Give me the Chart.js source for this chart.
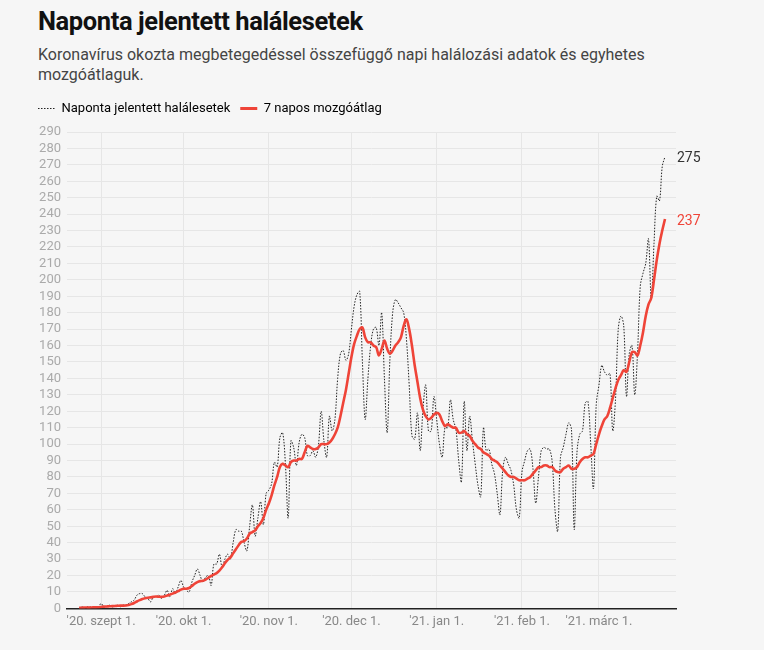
<!DOCTYPE html>
<html lang="hu">
<head>
<meta charset="utf-8">
<script src="https://cdn.jsdelivr.net/npm/chart.js@4"></script>
<style>
  html, body { margin: 0; padding: 0; background: #f6f6f6; }
  body { width: 764px; height: 650px; position: relative; overflow: hidden; font-family: Roboto, sans-serif; }
  h1 { position: absolute; left: 38px; top: 6px; margin: 0; font-size: 25.5px; font-weight: 700; color: #111; letter-spacing: -0.4px; }
  p.sub { position: absolute; left: 38px; top: 45px; margin: 0; width: 640px; font-size: 16px; line-height: 20px; color: #444; }
  #wrap { position: absolute; left: 0; top: 92px; width: 764px; height: 558px; }
</style>
</head>
<body>
<h1>Naponta jelentett halálesetek</h1>
<p class="sub">Koronavírus okozta megbetegedéssel összefüggő napi halálozási adatok és egyhetes mozgóátlaguk.</p>
<div id="wrap"><canvas id="chart"></canvas></div>
<script>
// napok: 0 = 2020. aug. 24., utolsó = 2021. márc. 25.
const monthTicks = [8, 38, 69, 99, 130, 161, 189];
const monthLabels = ["'20. szept 1.", "'20. okt 1.", "'20. nov 1.", "'20. dec 1.", "'21. jan 1.", "'21. feb 1.", "'21. márc 1."];

const daily = [
  0, 1, 0, 1, 1, 0, 1, 1,
  3, 1, 1, 2, 1, 1,
  2, 1, 2, 2, 3, 4, 5,
  8, 9, 9, 7, 6, 4, 7,
  7, 8, 6, 8, 11, 7, 12,
  9, 13, 17, 13, 11, 10, 16,
  20, 24, 20, 16, 19, 20, 14,
  27, 27, 33, 25, 30, 33, 30,
  40, 48, 47, 47, 40, 35, 50,
  63, 44, 55, 65, 51, 70, 72,
  76, 89, 86, 104, 107, 88, 55,
  102, 98, 87, 101, 106, 104, 93,
  93, 96, 92, 99, 120, 102, 92,
  117, 108, 115, 140, 155, 157, 151,
  155, 170, 184, 191, 193, 150, 115,
  140, 160, 170, 171, 160, 180, 140,
  107, 152, 180, 188, 186, 183, 180,
  164, 136, 105, 103, 119, 96, 121,
  136, 108, 108, 129, 115, 100, 92,
  110, 110, 127, 115, 109, 90, 77,
  126, 96, 117, 102, 88, 75, 68,
  110, 96, 97, 88, 82, 70, 57,
  84, 92, 88, 84, 75, 60, 55,
  83, 90, 96, 97, 85, 64, 80,
  96, 98, 97, 97, 89, 60, 47,
  92, 98, 106, 113, 109, 48, 95,
  106, 108, 125, 126, 100, 73, 124,
  136, 148, 144, 142, 143, 108, 127,
  170, 178, 172, 129, 155, 160, 130,
  155, 196, 204, 210, 225, 188, 222,
  251, 248, 269, 275
];

const avg7 = [
  0.4, 0.4, 0.5, 0.5, 0.5, 0.6, 0.6, 0.7, 0.9, 1.1,
  1.2, 1.3, 1.4, 1.5, 1.6, 1.7, 1.7, 1.8,
  2.1, 2.6, 3.3, 4.2, 5.0, 5.7, 6.2, 6.5, 6.7, 7.0,
  7.2, 7.1, 7.0, 7.3, 7.8, 8.4, 9.0, 9.7, 10.5, 11.4,
  12.0, 12.0, 12.4, 13.6, 15.0, 16.0, 16.6, 16.8, 17.5, 18.6,
  19.8, 20.6, 21.5, 23.0, 25.0, 27.5, 29.5, 31.0, 33.5, 36.0,
  38.5, 40.5, 41.0, 42.5, 45.5, 46.5, 47.5, 50.0, 52.0, 55.0,
  60, 64, 69, 75, 80, 86, 88, 87, 86, 89,
  90, 90, 91, 91, 95, 99, 98, 97, 97, 98,
  100, 100, 100, 101, 103, 106, 110, 117, 125, 133,
  143, 153, 161, 166, 170, 171, 165, 162, 162, 160,
  159, 154, 158, 163, 158, 155, 157, 160, 162, 165,
  172, 176, 170, 160, 148, 138, 128, 121, 117, 115,
  116, 118, 119, 118, 114, 111, 112, 111, 110, 110,
  107, 107, 108, 106, 105, 102, 100, 98, 97, 95,
  94, 93, 91, 90, 89, 87, 85, 83, 81, 80,
  80, 79, 78, 78, 78, 79, 80, 82, 84, 86,
  86, 87, 87, 86, 86,
  84, 83, 83, 85, 86, 87, 85,
  85, 86, 89, 91, 92, 92, 93, 94,
  100, 106, 111, 115, 117, 122, 128, 134, 139, 142,
  145, 144, 150, 156, 156, 154, 160,
  168, 178, 185, 189, 200, 212, 222, 230, 237
];

const toPoints = arr => arr.map((v, i) => ({ x: i, y: v }));

// utolsó érték kiírása a vonalak végén
const endLabels = {
  id: 'endLabels',
  afterDatasetsDraw(chart) {
    const ctx = chart.ctx;
    chart.data.datasets.forEach((ds, i) => {
      const meta = chart.getDatasetMeta(i);
      const pt = meta.data[meta.data.length - 1];
      ctx.save();
      ctx.font = '14px Roboto';
      ctx.fillStyle = ds.endColor;
      ctx.textBaseline = 'middle';
      ctx.fillText(ds.data[ds.data.length - 1].y, pt.x + 12, pt.y + 2);
      ctx.restore();
    });
  }
};

// kis hely a jelmagyarázat alatt
const legendGap = {
  id: 'legendGap',
  beforeInit(chart) {
    const fit = chart.legend.fit;
    chart.legend.fit = function () {
      fit.call(this);
      this.height += 7;
    };
  }
};

new Chart(document.getElementById('chart'), {
  type: 'line',
  data: {
    datasets: [
      {
        label: 'Naponta jelentett halálesetek',
        data: toPoints(daily),
        borderColor: '#222',
        borderWidth: 1,
        borderDash: [1.5, 1.5],
        pointRadius: 0,
        tension: 0.35,
        order: 1,
        endColor: '#333'
      },
      {
        label: '7 napos mozgóátlag',
        data: toPoints(avg7),
        borderColor: '#ef4438',
        borderWidth: 2.6,
        pointRadius: 0,
        tension: 0.35,
        order: 0,
        endColor: '#ef4438'
      }
    ]
  },
  options: {
    responsive: true,
    maintainAspectRatio: false,
    animation: false,
    layout: { padding: { left: 28, right: 88, bottom: 14 } },
    plugins: {
      tooltip: { enabled: false },
      legend: {
        position: 'top',
        align: 'start',
        labels: {
          usePointStyle: true,
          pointStyleWidth: 17,
          color: '#333',
          font: { size: 13, family: 'Roboto' },
          padding: 10,
          generateLabels: chart => chart.data.datasets.map((ds, i) => ({
            text: ds.label,
            datasetIndex: i,
            pointStyle: 'line',
            strokeStyle: ds.borderColor,
            fillStyle: ds.borderColor,
            lineWidth: ds.borderDash ? 1 : 3,
            lineDash: ds.borderDash || [],
            hidden: false
          }))
        }
      }
    },
    scales: {
      x: {
        type: 'linear',
        min: -4.4,
        max: 217,
        afterBuildTicks: scale => { scale.ticks = monthTicks.map(v => ({ value: v })); },
        ticks: {
          autoSkip: false,
          maxRotation: 0,
          padding: 6,
          color: '#888',
          font: { size: 13, family: 'Roboto' },
          callback: v => monthLabels[monthTicks.indexOf(v)]
        },
        grid: { color: '#e6e6e6', drawTicks: false },
        border: { display: true, color: '#222', width: 1.5 }
      },
      y: {
        min: 0,
        max: 290,
        afterFit: scale => { scale.width = 39; },
        ticks: {
          stepSize: 10,
          autoSkip: false,
          padding: 6,
          color: '#aaa',
          font: { size: 13, family: 'Roboto' }
        },
        grid: { color: '#e6e6e6', drawTicks: false },
        border: { display: false }
      }
    }
  },
  plugins: [endLabels, legendGap]
});
</script>
</body>
</html>
